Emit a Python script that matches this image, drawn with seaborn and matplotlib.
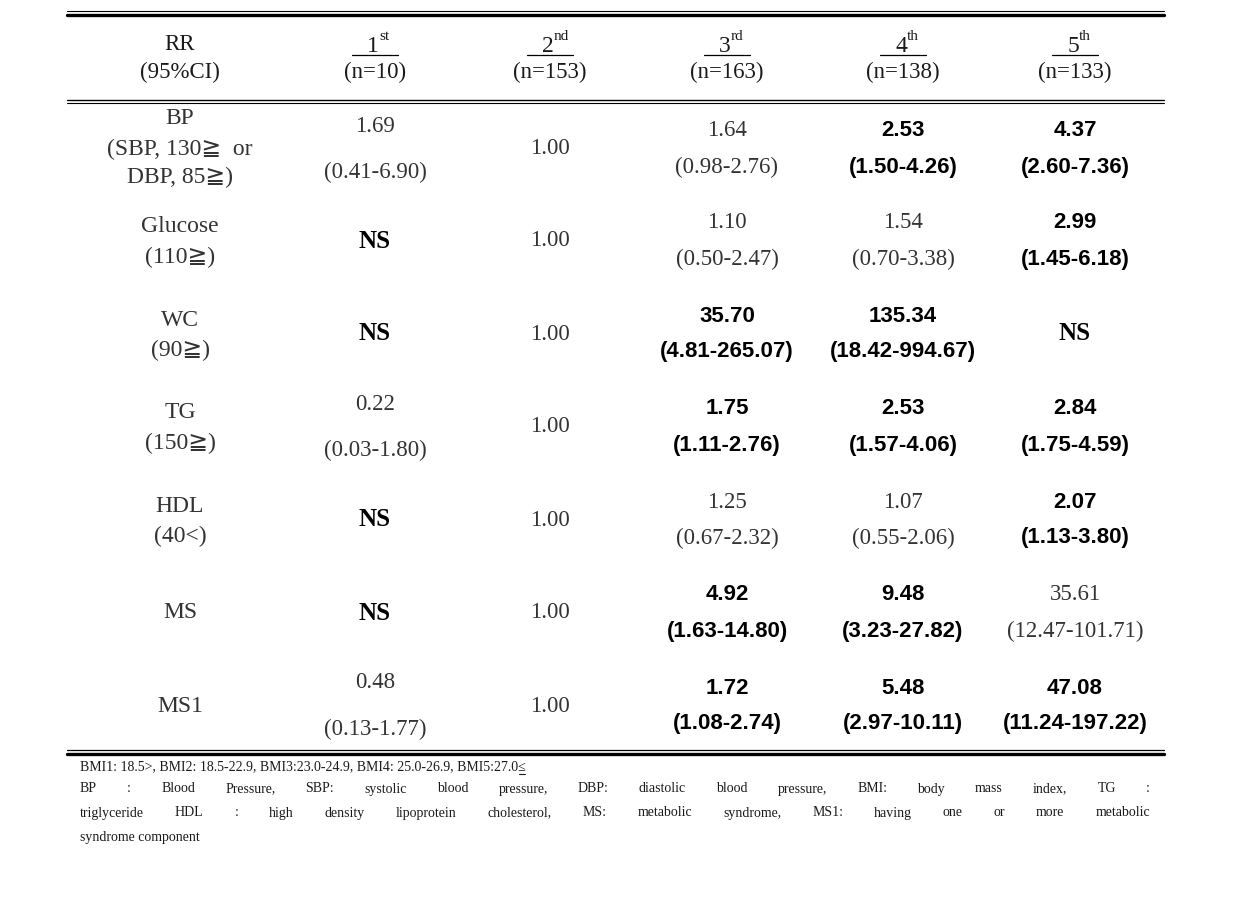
import matplotlib
matplotlib.use("Agg")
import matplotlib.pyplot as plt
import seaborn as sns

sns.set_theme(style="white")
plt.rcParams["font.family"] = ["Liberation Serif", "DejaVu Sans", "Noto Sans CJK KR"]

# table content
row_names = ["BP", "Glucose", "WC", "TG", "HDL", "MS", "MS1"]
row_subs = [["(SBP, 130≧  or", "DBP, 85≧)"], ["(110≧)"], ["(90≧)"], ["(150≧)"], ["(40<)"], [], []]

col_ordinals = ["1", "2", "3", "4", "5"]
col_suffix = ["st", "nd", "rd", "th", "th"]
col_n = ["(n=10)", "(n=153)", "(n=163)", "(n=138)", "(n=133)"]

q1_est = ["1.69", "NS", "NS", "0.22", "NS", "NS", "0.48"]
q1_ci = ["(0.41-6.90)", "", "", "(0.03-1.80)", "", "", "(0.13-1.77)"]
q1_bold = [0, 1, 1, 0, 1, 1, 0]

q2_est = ["1.00"] * 7
q2_ci = [""] * 7
q2_bold = [0] * 7

q3_est = ["1.64", "1.10", "35.70", "1.75", "1.25", "4.92", "1.72"]
q3_ci = ["(0.98-2.76)", "(0.50-2.47)", "(4.81-265.07)", "(1.11-2.76)", "(0.67-2.32)", "(1.63-14.80)", "(1.08-2.74)"]
q3_bold = [0, 0, 1, 1, 0, 1, 1]

q4_est = ["2.53", "1.54", "135.34", "2.53", "1.07", "9.48", "5.48"]
q4_ci = ["(1.50-4.26)", "(0.70-3.38)", "(18.42-994.67)", "(1.57-4.06)", "(0.55-2.06)", "(3.23-27.82)", "(2.97-10.11)"]
q4_bold = [1, 0, 1, 1, 0, 1, 1]

q5_est = ["4.37", "2.99", "NS", "2.84", "2.07", "35.61", "47.08"]
q5_ci = ["(2.60-7.36)", "(1.45-6.18)", "", "(1.75-4.59)", "(1.13-3.80)", "(12.47-101.71)", "(11.24-197.22)"]
q5_bold = [1, 1, 1, 1, 1, 0, 1]

foot1 = "BMI1: 18.5>, BMI2: 18.5-22.9, BMI3:23.0-24.9, BMI4: 25.0-26.9, BMI5:27.0≤"
foot2 = "BP : Blood Pressure, SBP: systolic blood pressure, DBP: diastolic blood pressure, BMI: body mass index,  TG :"
foot3 = "triglyceride HDL : high density lipoprotein cholesterol, MS: metabolic syndrome, MS1: having one or more metabolic"
foot4 = "syndrome component"

fig = plt.figure(figsize=(12.39, 9.18), dpi=100)
ax = fig.add_axes([0, 0, 1, 1])
ax.set_xlim(0, 1239)
ax.set_ylim(918, 0)
ax.axis("off")

x_left, x_right = 67, 1164
col_x = [180, 375, 550, 727, 903, 1075]
row_y = [149, 241, 334, 427, 520, 613, 706]
ink = "#1a1a1a"
grey = "#333333"

# rules
ax.plot([x_left, x_right], [11, 11], color="black", lw=0.8)
ax.plot([x_left, x_right], [14.5, 14.5], color="black", lw=2.4)
ax.plot([x_left, x_right], [99.5, 99.5], color="black", lw=1.0)
ax.plot([x_left, x_right], [103, 103], color="black", lw=0.8)
ax.plot([x_left, x_right], [750, 750], color="black", lw=0.9)
ax.plot([x_left, x_right], [754, 754], color="black", lw=2.4)

# header
ax.text(col_x[0], 45, "RR", ha="center", va="center", fontsize=16.5, color=ink)
ax.text(col_x[0], 72, "(95%CI)", ha="center", va="center", fontsize=16.5, color=ink)
for i in range(5):
    cx = col_x[i + 1]
    ax.text(cx + 4, 52, col_ordinals[i], ha="right", va="baseline", fontsize=17, color=ink)
    ax.text(cx + 4, 40, col_suffix[i], ha="left", va="baseline", fontsize=11, color=ink)
    ax.plot([cx - 23, cx + 23], [55, 55], color="black", lw=0.9)
    ax.text(cx, 72, col_n[i], ha="center", va="center", fontsize=16.5, color=ink)


def cell_font(bold, txt):
    if not bold:
        return dict(fontsize=16.5, color=grey)
    if txt == "NS":
        return dict(fontsize=18, fontweight="bold", color="black")
    return dict(fontsize=16, fontweight="bold", color="black",
                family=["Liberation Sans", "DejaVu Sans"])


# row labels
for name, subs, y in zip(row_names, row_subs, row_y):
    lines = [name] + subs
    if len(lines) == 3:
        ys = [y - 31, y, y + 28]
    elif len(lines) == 2:
        ys = [y - 14, y + 16]
    else:
        ys = [y]
    for t, yy in zip(lines, ys):
        ax.text(col_x[0], yy, t, ha="center", va="center", fontsize=17, color=grey)

# value cells
cols = [(q1_est, q1_ci, q1_bold, 23), (q2_est, q2_ci, q2_bold, 18),
        (q3_est, q3_ci, q3_bold, 18), (q4_est, q4_ci, q4_bold, 18), (q5_est, q5_ci, q5_bold, 18)]
for j, (est, ci, bold, off) in enumerate(cols):
    cx = col_x[j + 1]
    for k, y in enumerate(row_y):
        if ci[k]:
            ax.text(cx, y - off, est[k], ha="center", va="center", **cell_font(bold[k], est[k]))
            ax.text(cx, y + off, ci[k], ha="center", va="center", **cell_font(bold[k], ci[k]))
        else:
            ax.text(cx, y, est[k], ha="center", va="center", **cell_font(bold[k], est[k]))

# footnote
fs = 10
renderer = fig.canvas.get_renderer()
t1 = ax.text(80, 767, foot1, ha="left", va="center", fontsize=fs, color=ink)
bb = t1.get_window_extent(renderer)
ax.plot([bb.x1 - 7, bb.x1 - 1], [774, 774], color=ink, lw=0.8)


def justify(line, y, x0=80, x1=1150):
    words = line.split()
    texts = [ax.text(0, y, w, ha="left", va="center", fontsize=fs, color=ink) for w in words]
    widths = [t.get_window_extent(renderer).width for t in texts]
    gap = (x1 - x0 - sum(widths)) / (len(words) - 1)
    x = x0
    for t, w in zip(texts, widths):
        t.set_x(x)
        x += w + gap


justify(foot2, 789)
justify(foot3, 813)
ax.text(80, 837, foot4, ha="left", va="center", fontsize=fs, color=ink)

fig.savefig("out.png", dpi=100, facecolor="white")
